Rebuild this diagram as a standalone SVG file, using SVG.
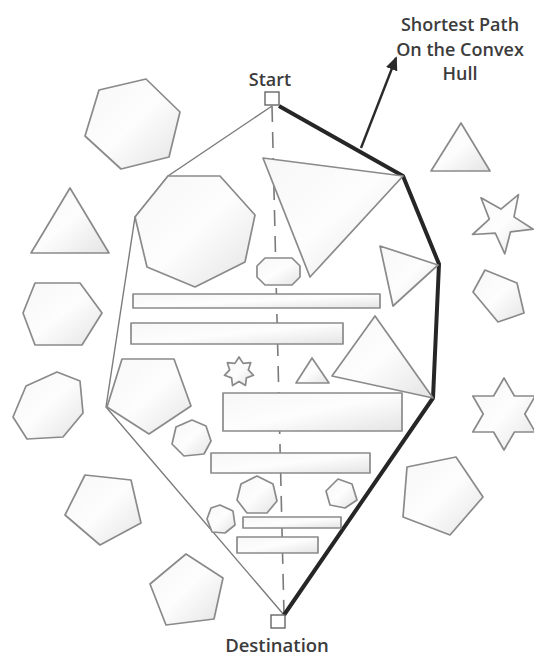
<svg xmlns="http://www.w3.org/2000/svg" width="534" height="659" viewBox="0 0 534 659">
<defs>
<linearGradient id="g" x1="0" y1="0" x2="1" y2="1">
<stop offset="0" stop-color="#f7f7f7"/>
<stop offset="0.5" stop-color="#fdfdfd"/>
<stop offset="1" stop-color="#e4e4e4"/>
</linearGradient>
<marker id="ah" markerWidth="14" markerHeight="12" refX="12" refY="6" orient="auto" markerUnits="userSpaceOnUse">
<path d="M0,0 L14,6 L0,12 Z" fill="#2a2a2a"/>
</marker>
<style>
.s{fill:url(#g);stroke:#8a8a8a;stroke-width:1.7;stroke-linejoin:round}
.hull{fill:none;stroke:#7c7c7c;stroke-width:1.4}
.thick{fill:none;stroke:#262626;stroke-width:4;stroke-linejoin:round}
.dash{fill:none;stroke:#7a7a7a;stroke-width:1.6;stroke-dasharray:16 10}
.box{fill:#fff;stroke:#666;stroke-width:1.4}
.t{font-family:"Open Sans","Liberation Sans",sans-serif;fill:#3c3c3c;text-anchor:middle;font-weight:600}
</style>
</defs>
<rect width="534" height="659" fill="#fff"/>
<g id="connectors">
<line class="dash" x1="272" y1="106" x2="284" y2="615"/>
<polyline class="hull" points="272,106 168,176 135,217 106,407 284,615"/>
<polyline class="thick" points="279,106 403,176 439,264 433,398 284,615"/>
<line x1="361" y1="148" x2="396" y2="58" stroke="#2a2a2a" stroke-width="2.4" marker-end="url(#ah)"/>
</g>
<g id="start">
<rect class="box" x="265" y="92" width="14" height="13"/>
<text class="t" x="270" y="86" font-size="18">Start</text>
</g>
<g id="destination">
<rect class="box" x="271" y="615" width="14" height="13"/>
<text class="t" x="277" y="652" font-size="18.5">Destination</text>
</g>
<g id="label">
<text class="t" x="460" y="31" font-size="18">Shortest Path</text>
<text class="t" x="460" y="56" font-size="18">On the Convex</text>
<text class="t" x="460" y="80" font-size="18">Hull</text>
</g>
<g id="hex-top-left"><polygon class="s" points="99,90 146,79 180,112 169,157 121,169 85,136"/></g>
<g id="tri-top-right"><polygon class="s" points="461,123 431,171 490,171"/></g>
<g id="star5"><polygon class="s" points="518.5,194.6 514,216.9 533.2,229.2 510.5,231.8 504.8,253.9 495.3,233.1 472.5,234.5 489.3,219.1 481,197.8 500.9,209.1"/></g>
<g id="pent-right"><polygon class="s" points="485,270 517,283 524,313 498,322 473,292"/></g>
<g id="star6"><polygon class="s" points="504,378 514.4,396 535.2,396 524.8,414 535.2,432 514.4,432 504,450 493.6,432 472.8,432 483.2,414 472.8,396 493.6,396"/></g>
<g id="pent-right-bottom"><polygon class="s" points="407,467 456,457 483,497 450,535 403,517"/></g>
<g id="tri-left"><polygon class="s" points="70,188 31,253 109,253"/></g>
<g id="hex-left"><polygon class="s" points="35,283 80,283 102,313 82,345 35,345 23,313"/></g>
<g id="hept-left"><polygon class="s" points="57,372 80,381 83,413 63,437 27,439 13,417 26,386"/></g>
<g id="pent-left-bottom"><polygon class="s" points="85,475 131,480 141,523 100,545 65,515"/></g>
<g id="pent-bottom"><polygon class="s" points="150,584 186,554 223,578 214,619 166,625"/></g>
<g id="hept-big"><polygon class="s" points="168,176 220,176 255,215 245,262 195,287 147,267 135,217"/></g>
<g id="tri-big"><polygon class="s" points="263,158 403,176 310,277"/></g>
<g id="oct-small"><polygon class="s" points="265,258 292,258 300,266 300,277 292,285 265,285 257,277 257,266"/></g>
<g id="tri-right-small"><polygon class="s" points="380,246 438,265 393,306"/></g>
<g id="rect1"><rect class="s" x="133" y="294" width="247" height="14"/></g>
<g id="rect2"><rect class="s" x="131" y="323" width="212" height="21"/></g>
<g id="pent-in"><polygon class="s" points="122,359 174,359 191,406 149,434 107,407"/></g>
<g id="star7"><polygon class="s" points="239,357 243.1,363.4 250.7,362.7 248.3,369.9 253.6,375.3 246.4,377.9 245.5,385.5 239,381.5 232.5,385.5 231.6,377.9 224.4,375.3 229.7,369.9 227.3,362.7 234.9,363.4"/></g>
<g id="tri-small"><polygon class="s" points="312,358 296,383 329,383"/></g>
<g id="tri-right-mid"><polygon class="s" points="375,316 332,376 433,398"/></g>
<g id="rect3"><rect class="s" x="223" y="393" width="179" height="38"/></g>
<g id="hept-mid-left"><polygon class="s" points="192,420 206,426 211,441 204,454 184,456 172,444 176,427"/></g>
<g id="rect4"><rect class="s" x="211" y="453" width="159" height="20"/></g>
<g id="hept-mid"><polygon class="s" points="257,476 273,484 277,501 267,513 247,513 237,500 241,484"/></g>
<g id="hex-small"><polygon class="s" points="338,479 352,484 357,500 345,508 330,505 326,491"/></g>
<g id="hept-small"><polygon class="s" points="220,505 233,511 235,525 225,533 212,532 207,519 211,508"/></g>
<g id="rect5"><rect class="s" x="243" y="517" width="98" height="11"/></g>
<g id="rect6"><rect class="s" x="237" y="537" width="81" height="16"/></g>
</svg>
